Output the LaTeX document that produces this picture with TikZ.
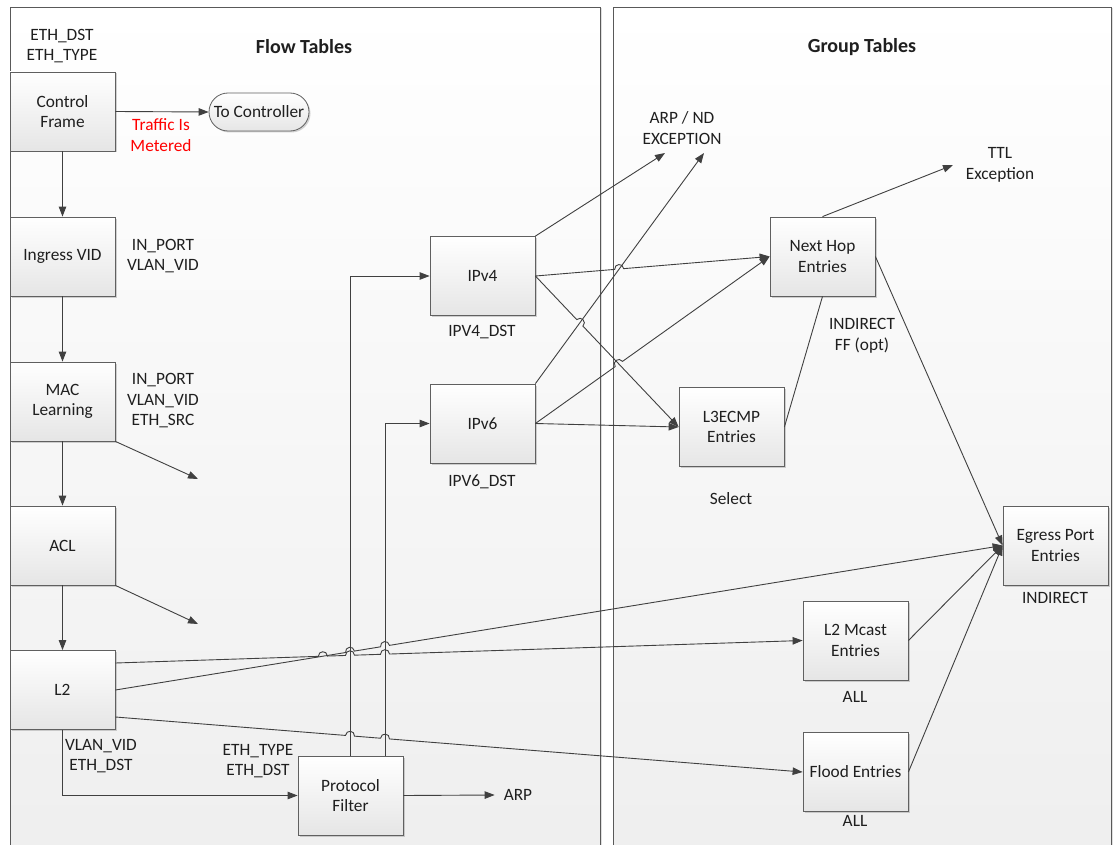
\documentclass[tikz,border=0pt]{standalone}
\usepackage{fontspec}
\setmainfont{Carlito}
\usetikzlibrary{arrows.meta,shadows,shapes.misc,calc,intersections}
\begin{document}
\begin{tikzpicture}[x=1pt,y=-1pt,
  every node/.style={font=\fontsize{17.3}{20.5}\selectfont, text=black!88},
  box/.style={draw=gray!75!black, line width=0.8pt, top color=white, bottom color=gray!20,
    minimum width=105pt, minimum height=79pt, align=center, inner sep=2pt,
    drop shadow={shadow xshift=1.5pt, shadow yshift=-1.5pt, opacity=0.35}},
  lbl/.style={align=center, inner sep=0pt},
  conn/.style={draw=black!75, line width=0.9pt},
  arr/.style={conn, -{Triangle[length=10pt,width=7.5pt]}},
  hop/.style={bend left=90, looseness=1.7},
  panel/.style={draw=gray!70!black, line width=0.8pt, top color=white, bottom color=gray!13},
  ttl/.style={lbl, font=\fontsize{20}{23}\selectfont\bfseries}
]
\useasboundingbox (0,0) rectangle (1113,845);
\begin{scope}
\clip (0,0) rectangle (1113,845);
\path[panel, drop shadow={shadow xshift=2pt, shadow yshift=-1pt, opacity=0.25}] (10,7) rectangle (600,860);
\path[panel, drop shadow={shadow xshift=2pt, shadow yshift=-1pt, opacity=0.25}] (613,7) rectangle (1111,860);
\end{scope}

\node[ttl] (ft) at (304,47) {Flow Tables};
\node[ttl] (gt) at (862,47) {Group Tables};

% flow table nodes
\node[box] (cf) at (62.5,111.5) {Control\\Frame};
\node[lbl] (cfl) at (62,46) {ETH\_DST\\ETH\_TYPE};
\node[draw=gray!75!black, line width=0.8pt, rounded rectangle, top color=white, bottom color=gray!20,
  minimum width=104pt, minimum height=38pt, inner sep=2pt,
  drop shadow={shadow xshift=1.5pt, shadow yshift=-1.5pt, opacity=0.35}] (tc) at (259,112) {To Controller};
\node[lbl, text=red] (tm) at (161,135) {Traffic Is\\Metered};

\node[box] (ing) at (62.5,256.5) {Ingress VID};
\node[lbl] (ingl) at (163,256) {IN\_PORT\\VLAN\_VID};
\node[box] (mac) at (62.5,401.5) {MAC\\Learning};
\node[lbl] (macl) at (163,401) {IN\_PORT\\VLAN\_VID\\ETH\_SRC};
\node[box] (acl) at (62.5,545.5) {ACL};
\node[box] (l2) at (62.5,690) {L2};
\node[lbl] (l2l) at (101,756) {VLAN\_VID\\ETH\_DST};
\node[box] (pf) at (350.5,795.5) {Protocol\\Filter};
\node[lbl] (pfl) at (258,761) {ETH\_TYPE\\ETH\_DST};
\node[lbl] (arp) at (518,795) {ARP};

\node[box] (v4) at (482.5,276) {IPv4};
\node[lbl] (v4l) at (482,332) {IPV4\_DST};
\node[box] (v6) at (482.5,423.5) {IPv6};
\node[lbl] (v6l) at (482,482) {IPV6\_DST};

% group table nodes
\node[lbl] (arpnd) at (682,128) {ARP / ND\\EXCEPTION};
\node[lbl] (ttlx) at (1000,165) {TTL\\Exception};
\node[box] (nh) at (822.5,256.5) {Next Hop\\Entries};
\node[lbl] (nhl) at (862,336) {INDIRECT\\FF (opt)};
\node[box] (l3) at (731.5,427) {L3ECMP\\Entries};
\node[lbl] (l3l) at (731,499) {Select};
\node[box] (eg) at (1055.5,545.5) {Egress Port\\Entries};
\node[lbl] (egl) at (1055,598) {INDIRECT};
\node[box] (mc) at (855.5,640.5) {L2 Mcast\\Entries};
\node[lbl] (mcl) at (855,697) {ALL};
\node[box] (fl) at (855.5,772) {Flood Entries};
\node[lbl] (fll) at (855,821) {ALL};

\coordinate (macend) at (198,479);
\coordinate (aclend) at (198,624);
\coordinate (arp1) at (665,153);
\coordinate (arp2) at (704,153);
\coordinate (ttlend) at (953,165);
\coordinate (l2a) at ([yshift=27pt]l2.east);
\coordinate (l2b) at (l2.east);
\coordinate (l2c) at ([yshift=-27pt]l2.east);
\coordinate (pfa) at ([xshift=-0.5pt]pf.north);
\coordinate (pfb) at ([xshift=34.5pt]pf.north);

% invisible paths for line hops
\path[name path=va] (pfa) -- (pfa |- v4.west);
\path[name path=vb] (pfb) -- (pfb |- v6.west);
\path[name path=pmc] (l2a) -- (mc.west);
\path[name path=peg] (l2b) -- (eg.west);
\path[name path=pfl] (l2c) -- (fl.west);
\path[name path=p6a] (v6.north east) -- (arp2);
\path[name path=p4n] (v4.east) -- (nh.west);
\path[name path=p4l] (v4.east) -- (l3.west);
\path[name path=p6n] (v6.east) -- (nh.west);
\path[name intersections={of=pmc and peg, by=h1}];
\path[name intersections={of=pmc and va, by=h2}];
\path[name intersections={of=pmc and vb, by=h3}];
\path[name intersections={of=peg and va, by=h4}];
\path[name intersections={of=peg and vb, by=h5}];
\path[name intersections={of=pfl and va, by=h6}];
\path[name intersections={of=pfl and vb, by=h7}];
\path[name intersections={of=p4n and p6a, by=h8}];
\path[name intersections={of=p4l and p6a, by=h9}];
\path[name intersections={of=p6n and p4l, by=h10}];

% connectors
\draw[arr] (cf.east) -- (tc.west);
\draw[arr] (cf.south) -- (ing.north);
\draw[arr] (ing.south) -- (mac.north);
\draw[arr] (mac.south) -- (acl.north);
\draw[arr] (acl.south) -- (l2.north);
\draw[arr] (mac.south east) -- (macend);
\draw[arr] (acl.south east) -- (aclend);
\draw[arr] (l2.south) |- (pf.west);
\draw[arr] (pf.east) -- ([xshift=-9pt]arp.west);
\draw[arr] (pfa) |- (v4.west);
\draw[arr] (pfb) |- (v6.west);

\draw[arr] (v4.north east) -- (arp1);
\draw[arr] (v6.north east) -- (arp2);
\draw[arr] (v4.east) -- ($(h8)!4.5pt!(v4.east)$) to[hop] ($(h8)!-4.5pt!(v4.east)$) -- (nh.west);
\draw[arr] (v4.east) -- ($(h9)!4.5pt!(v4.east)$) to[hop] ($(h9)!-4.5pt!(v4.east)$) -- (l3.west);
\draw[arr] (v6.east) -- ($(h10)!4.5pt!(v6.east)$) to[hop] ($(h10)!-4.5pt!(v6.east)$) -- (nh.west);
\draw[arr] (v6.east) -- (l3.west);
\draw[conn] (l3.east) -- (nh.south);
\draw[arr] (nh.north) -- (ttlend);
\draw[arr] (nh.east) -- (eg.west);

\draw[arr] (l2a) -- ($(h1)!4.5pt!(l2a)$) to[hop] ($(h1)!-4.5pt!(l2a)$)
  -- ($(h2)!4.5pt!(l2a)$) to[hop] ($(h2)!-4.5pt!(l2a)$)
  -- ($(h3)!4.5pt!(l2a)$) to[hop] ($(h3)!-4.5pt!(l2a)$) -- (mc.west);
\draw[arr] (l2b) -- ($(h4)!4.5pt!(l2b)$) to[hop] ($(h4)!-4.5pt!(l2b)$)
  -- ($(h5)!4.5pt!(l2b)$) to[hop] ($(h5)!-4.5pt!(l2b)$) -- (eg.west);
\draw[arr] (l2c) -- ($(h6)!4.5pt!(l2c)$) to[hop] ($(h6)!-4.5pt!(l2c)$)
  -- ($(h7)!4.5pt!(l2c)$) to[hop] ($(h7)!-4.5pt!(l2c)$) -- (fl.west);
\draw[arr] (mc.east) -- (eg.west);
\draw[arr] (fl.east) -- (eg.west);
\end{tikzpicture}
\end{document}
